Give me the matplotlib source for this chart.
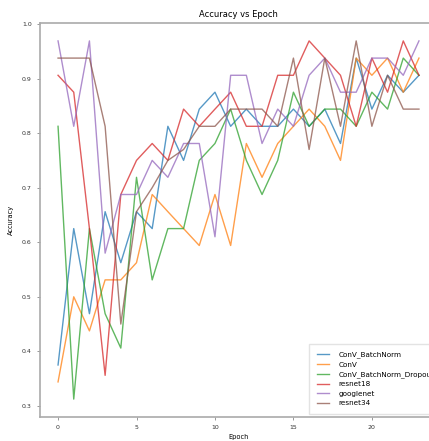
import numpy as np
from matplotlib import pyplot as plt

epochs = list(range(24))

conv_bn = [0.375, 0.625, 0.469, 0.656, 0.5625, 0.656, 0.625, 0.8125, 0.75, 0.844, 0.875, 0.8125,
           0.844, 0.8125, 0.8125, 0.844, 0.8125, 0.844, 0.781, 0.9375, 0.844, 0.906, 0.875, 0.906]
conv = [0.344, 0.5, 0.4375, 0.531, 0.531, 0.5625, 0.6875, 0.656, 0.625, 0.594, 0.6875, 0.594,
        0.781, 0.719, 0.781, 0.8125, 0.844, 0.8125, 0.75, 0.9375, 0.906, 0.9375, 0.875, 0.9375]
conv_bn_drop = [0.8125, 0.3125, 0.625, 0.469, 0.406, 0.719, 0.531, 0.625, 0.625, 0.75, 0.781, 0.844,
                0.75, 0.6875, 0.75, 0.875, 0.8125, 0.844, 0.844, 0.8125, 0.875, 0.844, 0.9375, 0.906]
resnet18 = [0.906, 0.875, 0.625, 0.356, 0.6875, 0.75, 0.781, 0.75, 0.844, 0.8125, 0.844, 0.875,
            0.8125, 0.8125, 0.906, 0.906, 0.969, 0.9375, 0.906, 0.8125, 0.9375, 0.875, 0.969, 0.906]
googlenet = [0.969, 0.8125, 0.969, 0.58, 0.6875, 0.6875, 0.75, 0.719, 0.781, 0.781, 0.61, 0.906,
             0.906, 0.781, 0.844, 0.8125, 0.906, 0.9375, 0.875, 0.875, 0.9375, 0.9375, 0.906, 0.969]
resnet34 = [0.9375, 0.9375, 0.9375, 0.8125, 0.45, 0.656, 0.70, 0.75, 0.77, 0.8125, 0.8125, 0.844,
            0.844, 0.844, 0.8125, 0.9375, 0.77, 0.9375, 0.8125, 0.969, 0.8125, 0.906, 0.844, 0.844]

series = [
    ("ConV_BatchNorm", conv_bn),
    ("ConV", conv),
    ("ConV_BatchNorm_Dropout", conv_bn_drop),
    ("resnet18", resnet18),
    ("googlenet", googlenet),
    ("resnet34", resnet34),
]

W, H = 429, 441
fig = plt.figure(figsize=(W / 100, H / 100), dpi=100)
# axes runs a bit past the right edge, the source image was cropped
ax = fig.add_axes([40 / W, 1 - 417 / H, 397 / W, 394 / H])

for name, vals in series:
    ax.plot(epochs, vals, lw=1.0, alpha=0.75, label=name)

ax.set_title("Accuracy vs Epoch", fontsize=6, pad=4)
ax.set_xlabel("Epoch", fontsize=4.8, labelpad=3)
ax.set_ylabel("Accuracy", fontsize=4.8, labelpad=6)
ax.set_xticks([0, 5, 10, 15, 20])
ax.tick_params(labelsize=4.5, length=2.5, width=0.6, color="#888888", labelcolor="#333333")
for sp in ax.spines.values():
    sp.set_color("#aaaaaa")
    sp.set_linewidth(1.2)

# legend is clipped at the right edge just like in the source
ax.legend(loc="lower left", bbox_to_anchor=(309 / W, 1 - 414 / H),
          bbox_transform=fig.transFigure, fontsize=5.2, frameon=True,
          fancybox=False, edgecolor="#dddddd", handlelength=1.7, handletextpad=1.3,
          borderpad=1.05, labelspacing=0.48, borderaxespad=0)

fig.savefig("out.png", dpi=100)
